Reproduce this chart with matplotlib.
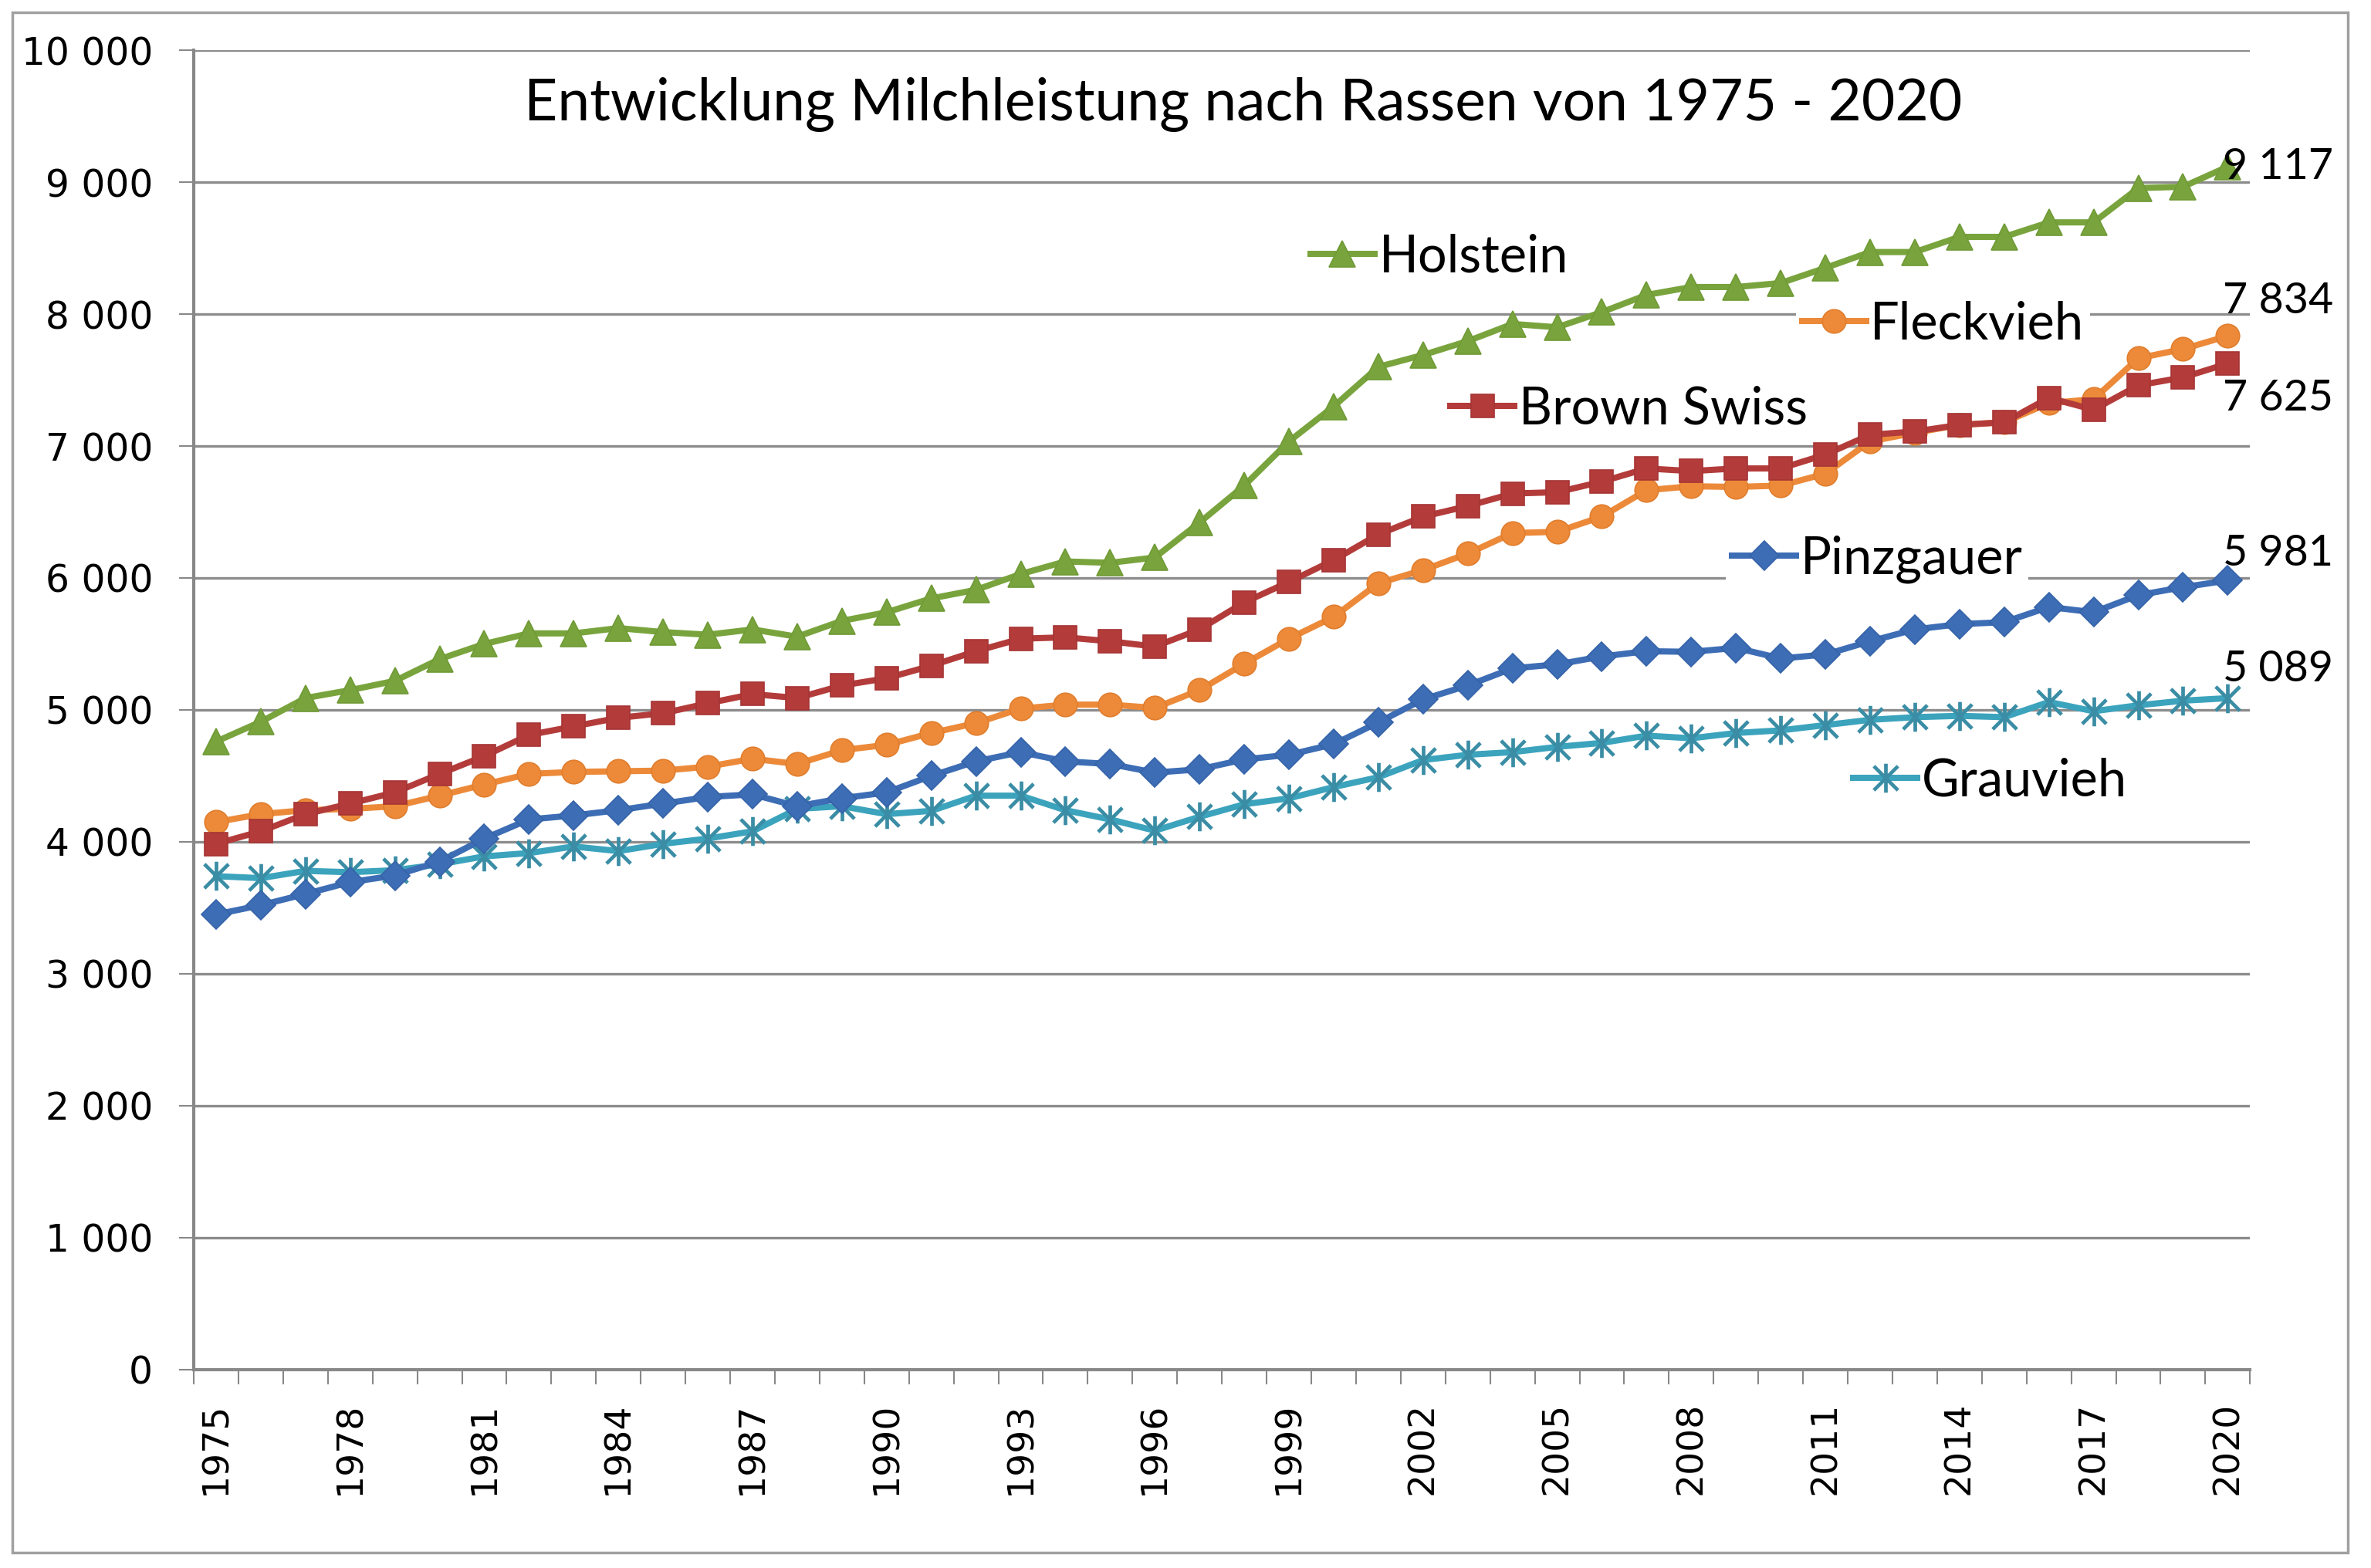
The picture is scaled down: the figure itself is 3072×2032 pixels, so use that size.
import matplotlib
matplotlib.use('Agg')
import matplotlib.pyplot as plt
import numpy as np
from matplotlib.path import Path
from matplotlib.lines import Line2D
from matplotlib.patches import Rectangle
from matplotlib.ticker import FuncFormatter, FixedLocator

years = list(range(1975, 2021))

holstein = [4760, 4910, 5090, 5150, 5220, 5385, 5500, 5580, 5580, 5620,
            5590, 5570, 5610, 5555, 5675, 5740, 5845, 5910, 6030, 6125,
            6115, 6155, 6420, 6700, 7035, 7300, 7600, 7690, 7795, 7925,
            7900, 8015, 8145, 8205, 8205, 8235, 8350, 8470, 8470, 8585,
            8585, 8695, 8695, 8955, 8965, 9117]
fleckvieh = [4150, 4210, 4240, 4250, 4270, 4350, 4435, 4515, 4530, 4535,
             4540, 4570, 4630, 4590, 4695, 4735, 4825, 4900, 5010, 5040,
             5040, 5015, 5150, 5350, 5540, 5705, 5960, 6060, 6185, 6340,
             6350, 6465, 6665, 6695, 6690, 6700, 6790, 7035, 7100, 7160,
             7180, 7325, 7355, 7665, 7735, 7834]
brown_swiss = [3985, 4080, 4210, 4290, 4375, 4515, 4650, 4810, 4875, 4940,
               4975, 5050, 5120, 5090, 5185, 5240, 5335, 5445, 5540, 5550,
               5520, 5480, 5610, 5815, 5970, 6135, 6330, 6465, 6545, 6640,
               6650, 6730, 6830, 6810, 6830, 6830, 6935, 7085, 7110, 7160,
               7180, 7365, 7275, 7460, 7520, 7625]
pinzgauer = [3450, 3520, 3605, 3695, 3745, 3850, 4025, 4170, 4200, 4240,
             4290, 4340, 4360, 4270, 4330, 4375, 4500, 4610, 4680, 4610,
             4590, 4525, 4550, 4625, 4660, 4740, 4905, 5080, 5185, 5315,
             5345, 5405, 5445, 5440, 5470, 5390, 5420, 5520, 5610, 5650,
             5665, 5780, 5740, 5870, 5930, 5981]
grauvieh = [3740, 3725, 3780, 3770, 3785, 3830, 3890, 3915, 3965, 3930,
            3985, 4025, 4080, 4250, 4270, 4210, 4235, 4350, 4350, 4240,
            4170, 4085, 4190, 4285, 4330, 4415, 4490, 4620, 4660, 4680,
            4720, 4750, 4805, 4785, 4825, 4845, 4885, 4925, 4945, 4955,
            4945, 5060, 4990, 5035, 5070, 5089]

series_names = ["Holstein", "Fleckvieh", "Brown Swiss", "Pinzgauer", "Grauvieh"]
end_labels = ["9 117", "7 834", "7 625", "5 981", "5 089"]
year_labels = [str(y) for y in range(1975, 2021, 3)]
y_ticks = list(range(0, 10001, 1000))
title = "Entwicklung Milchleistung nach Rassen von 1975 - 2020"

# asterisk marker (X with vertical bar)
star = Path([(-1, -1), (1, 1), (-1, 1), (1, -1), (0, -1.2), (0, 1.2)],
            [Path.MOVETO, Path.LINETO, Path.MOVETO, Path.LINETO, Path.MOVETO, Path.LINETO])

styles = {
    "Holstein":    dict(color='#79A43D', marker='^', ms=25, mec='#6F9A36', mfc='#79A43D'),
    "Fleckvieh":   dict(color='#EC8A3A', marker='o', ms=22, mec='#E07E2E', mfc='#EC8A3A'),
    "Brown Swiss": dict(color='#B33C3B', marker='s', ms=22, mec='#A63434', mfc='#B33C3B'),
    "Pinzgauer":   dict(color='#3D6DB5', marker='D', ms=19, mec='#3563A8', mfc='#3D6DB5'),
    "Grauvieh":    dict(color='#3CA3BD', marker=star, ms=27, mec='#3A8DA5', mfc='none', mew=3.4),
}

data = {"Holstein": holstein, "Fleckvieh": fleckvieh, "Brown Swiss": brown_swiss,
        "Pinzgauer": pinzgauer, "Grauvieh": grauvieh}

fig = plt.figure(figsize=(30.72, 20.32), dpi=100)
ax = fig.add_axes([0.0817, 0.1265, 0.9490 - 0.0817, 0.968 - 0.1265])

grid_col = '#8C8C8C'
for v in y_ticks[1:]:
    ax.axhline(v, color=grid_col, lw=2.4, zorder=1)

draw_order = ["Grauvieh", "Pinzgauer", "Fleckvieh", "Brown Swiss", "Holstein"]
for name in draw_order:
    st = dict(styles[name])
    mew = st.pop('mew', 1.2)
    ax.plot(years, data[name], lw=5.8, zorder=3, mew=mew, **st)

ax.set_xlim(1974.5, 2020.5)
ax.set_ylim(0, 10000)

for s in ['top', 'right']:
    ax.spines[s].set_visible(False)
for s in ['left', 'bottom']:
    ax.spines[s].set_color('#888888')
    ax.spines[s].set_linewidth(3.0)

ax.yaxis.set_major_locator(FixedLocator(y_ticks))
ax.yaxis.set_major_formatter(FuncFormatter(lambda v, p: f"{int(v):,}".replace(",", " ")))
ax.tick_params(axis='y', direction='out', length=14, width=1.5, color='#888888',
               pad=24, labelsize=35)
for t in ax.get_yticklabels():
    t.set_family('DejaVu Sans')

ax.xaxis.set_major_locator(FixedLocator(list(range(1975, 2021, 3))))
ax.set_xticklabels(year_labels, rotation=90, fontsize=34, family='DejaVu Sans')
ax.xaxis.set_minor_locator(FixedLocator(list(np.arange(1974.5, 2021, 1.0))))
ax.tick_params(axis='x', which='major', length=0, pad=30)
ax.tick_params(axis='x', which='minor', direction='out', length=14, width=1.5, color='#888888')

fig.text(0.5244, 0.9335, title, ha='center', va='center', fontsize=54, family='Lato')

# inline legend entries
leg_pos = {
    "Holstein": (0.540, 0.843),
    "Fleckvieh": (0.779, 0.792),
    "Brown Swiss": (0.608, 0.728),
    "Pinzgauer": (0.745, 0.614),
    "Grauvieh": (0.804, 0.446),
}
for name in series_names:
    st = dict(styles[name])
    mew = st.pop('mew', 1.2)
    h = Line2D([], [], lw=5.8, mew=mew, **st)
    leg = ax.legend([h], [name], loc='center left', bbox_to_anchor=leg_pos[name],
                    bbox_transform=ax.transAxes, borderaxespad=0, borderpad=0.12,
                    handlelength=1.25, handletextpad=0.08, frameon=True,
                    facecolor='white', edgecolor='none', framealpha=1,
                    prop={'family': 'Lato', 'size': 48}, fancybox=False)
    leg.set_zorder(4)
    ax.add_artist(leg)

# end-of-series value labels
offsets = {"Holstein": (-6, 0), "Fleckvieh": (-6, 45), "Brown Swiss": (-6, -45),
           "Pinzgauer": (-6, 35), "Grauvieh": (-6, 37)}
for name, lab in zip(series_names, end_labels):
    ax.annotate(lab, xy=(years[-1], data[name][-1]), xytext=offsets[name],
                textcoords='offset pixels', ha='left', va='center',
                fontsize=40, family='Lato', zorder=5, annotation_clip=False)

# outer chart border
fig.patches.append(Rectangle((16 / 3072, 20 / 2032), 3026 / 3072, 1996 / 2032,
                             transform=fig.transFigure, fill=False,
                             edgecolor='#A0A0A0', lw=2.5))

fig.savefig('out.png', dpi=100, facecolor='white')
